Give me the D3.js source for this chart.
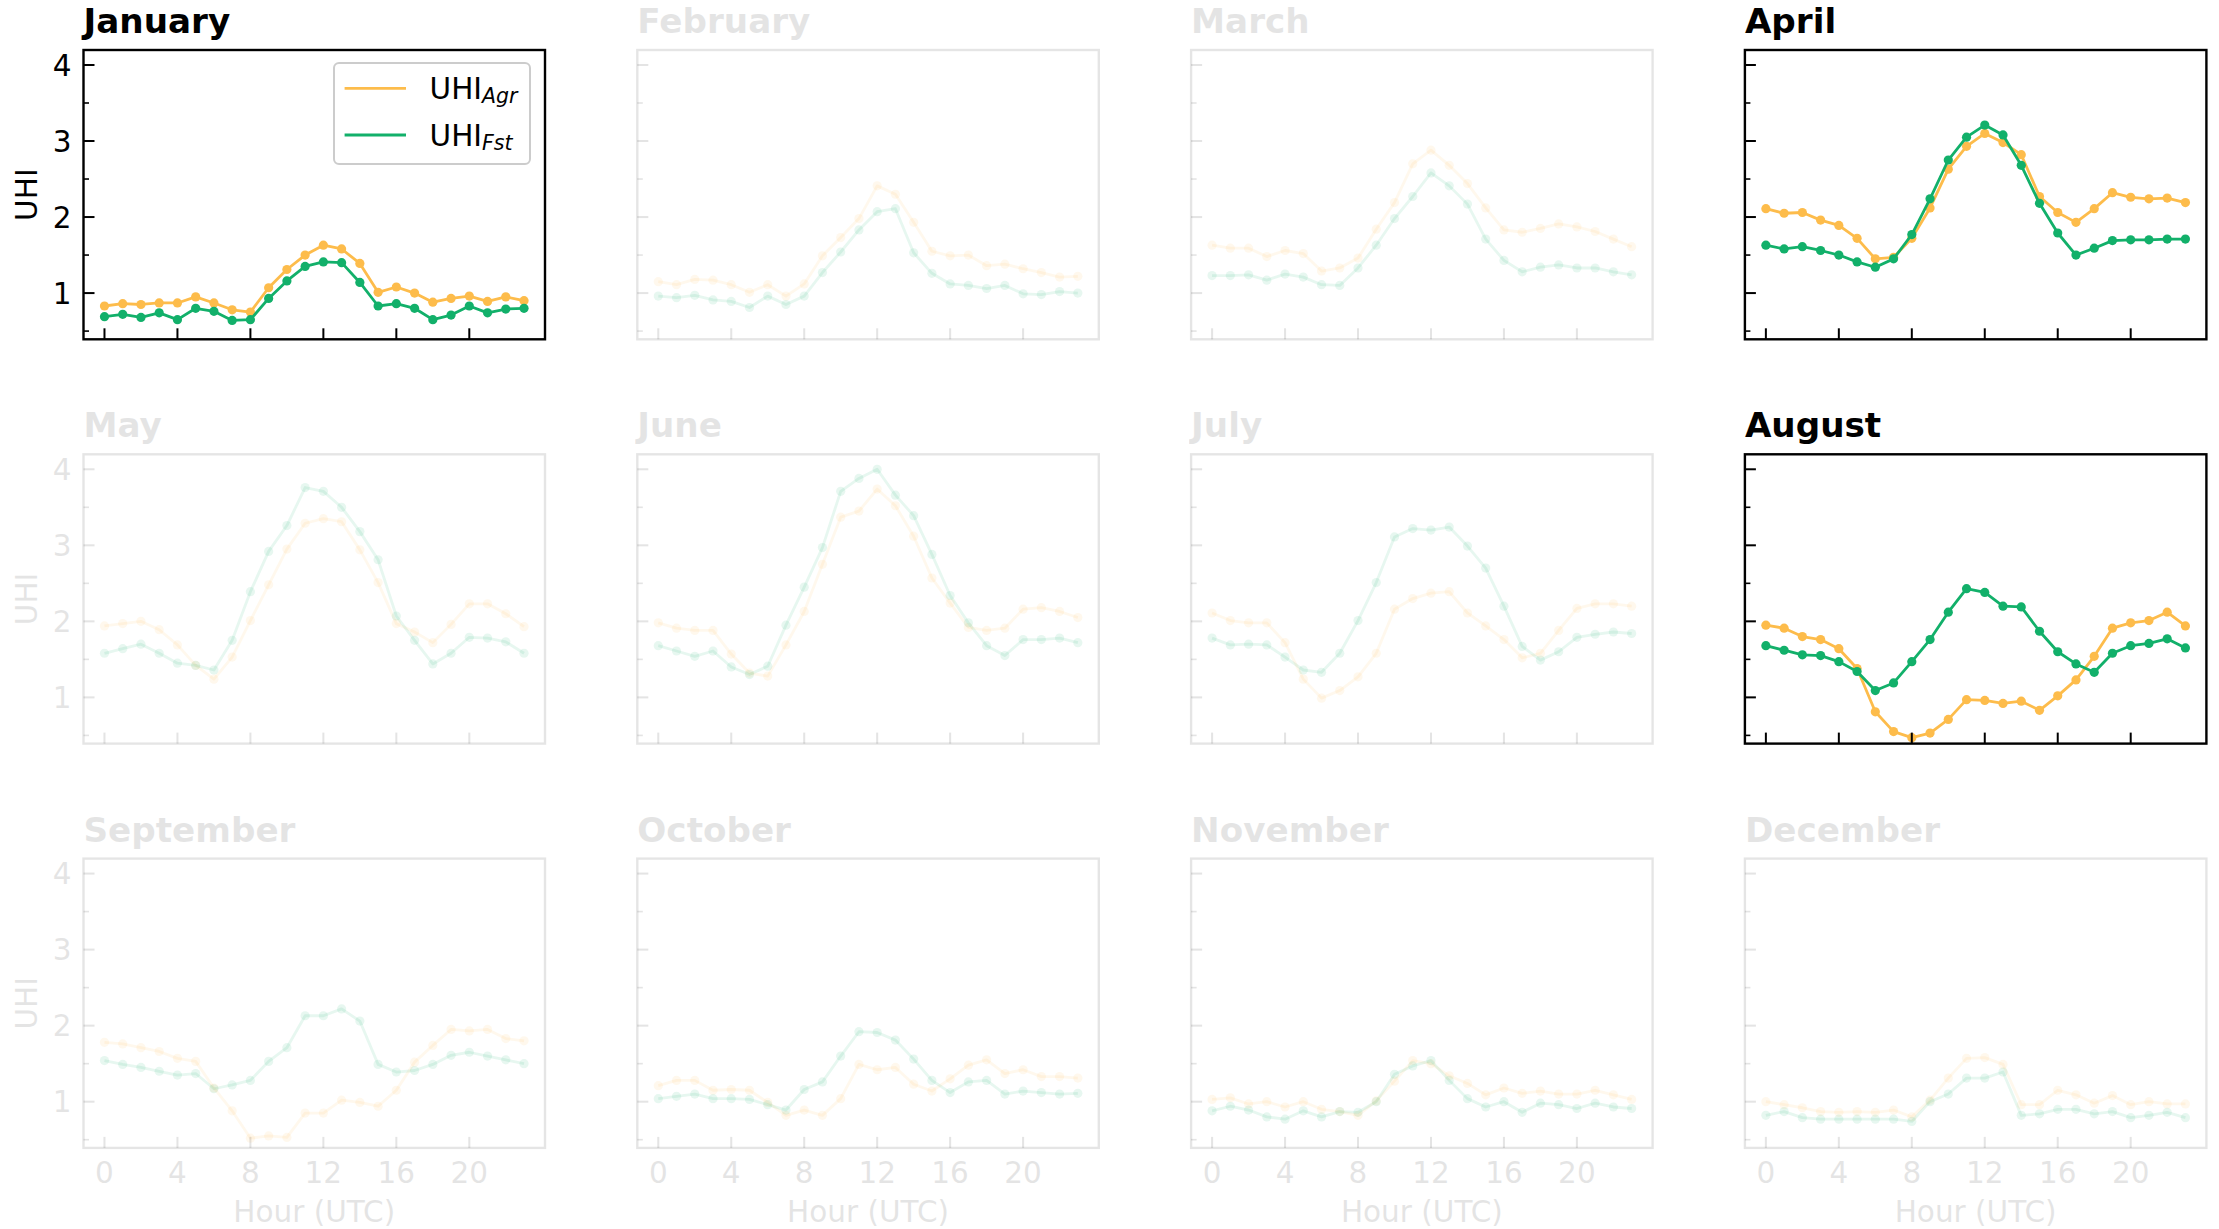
<!DOCTYPE html>
<html><head><meta charset="utf-8">
<script src="https://cdn.jsdelivr.net/npm/d3@7"></script>
<style>body{margin:0;background:#fff}svg{display:block}text{font-family:"DejaVu Sans",sans-serif}</style>
</head><body>
<script>
const months = ["January","February","March","April","May","June","July","August","September","October","November","December"];
const highlighted = ["January","April","August"];
const hours = [0,1,2,3,4,5,6,7,8,9,10,11,12,13,14,15,16,17,18,19,20,21,22,23];
const xTicks = [0,4,8,12,16,20];
const yMajorTicks = [1,2,3,4];
const yMinorTicks = [0.5,1.5,2.5,3.5];
const seriesNames = ["Agr","Fst"];
const seriesColors = ["#fdbc4b","#12b06a"];

const agrJanuary = [0.83,0.86,0.85,0.87,0.87,0.95,0.87,0.78,0.75,1.07,1.31,1.50,1.63,1.58,1.39,1.01,1.08,1.00,0.88,0.93,0.96,0.89,0.95,0.90];
const fstJanuary = [0.69,0.72,0.68,0.74,0.65,0.80,0.76,0.64,0.65,0.93,1.16,1.35,1.41,1.40,1.14,0.83,0.86,0.80,0.65,0.71,0.83,0.74,0.79,0.80];
const agrFebruary = [1.15,1.11,1.18,1.17,1.11,1.01,1.11,0.96,1.12,1.49,1.73,1.98,2.41,2.30,1.93,1.55,1.49,1.50,1.36,1.38,1.32,1.27,1.21,1.22];
const fstFebruary = [0.96,0.94,0.97,0.91,0.89,0.81,0.96,0.85,0.96,1.27,1.54,1.83,2.07,2.11,1.53,1.26,1.12,1.10,1.06,1.10,0.99,0.98,1.02,1.00];
const agrMarch = [1.63,1.59,1.59,1.48,1.56,1.52,1.29,1.33,1.46,1.84,2.19,2.70,2.88,2.68,2.44,2.12,1.83,1.80,1.85,1.91,1.87,1.81,1.71,1.61];
const fstMarch = [1.23,1.23,1.24,1.17,1.25,1.21,1.11,1.10,1.33,1.63,1.98,2.27,2.58,2.41,2.17,1.71,1.43,1.28,1.34,1.37,1.33,1.33,1.28,1.24];
const agrApril = [2.11,2.05,2.06,1.96,1.89,1.72,1.45,1.47,1.72,2.12,2.63,2.93,3.10,2.98,2.82,2.27,2.06,1.93,2.11,2.32,2.26,2.24,2.25,2.19];
const fstApril = [1.63,1.58,1.61,1.56,1.50,1.41,1.34,1.45,1.77,2.24,2.75,3.05,3.21,3.08,2.68,2.18,1.79,1.50,1.59,1.69,1.70,1.70,1.71,1.71];
const agrMay = [1.94,1.97,2.00,1.89,1.69,1.42,1.24,1.53,2.01,2.48,2.95,3.29,3.35,3.31,2.94,2.51,1.97,1.86,1.72,1.96,2.23,2.23,2.10,1.93];
const fstMay = [1.58,1.64,1.70,1.58,1.45,1.42,1.36,1.75,2.39,2.92,3.26,3.76,3.71,3.50,3.18,2.81,2.07,1.75,1.44,1.58,1.79,1.78,1.73,1.58];
const agrJune = [1.98,1.91,1.88,1.88,1.57,1.32,1.28,1.69,2.13,2.75,3.37,3.45,3.74,3.52,3.12,2.57,2.24,1.92,1.88,1.91,2.16,2.18,2.13,2.05];
const fstJune = [1.68,1.61,1.54,1.61,1.40,1.30,1.41,1.95,2.45,2.97,3.71,3.88,4.00,3.66,3.39,2.88,2.34,1.98,1.68,1.55,1.76,1.76,1.78,1.72];
const agrJuly = [2.11,2.01,1.98,1.98,1.72,1.24,0.99,1.09,1.27,1.58,2.16,2.30,2.37,2.39,2.11,1.94,1.76,1.52,1.58,1.88,2.17,2.23,2.23,2.20];
const fstJuly = [1.78,1.69,1.70,1.69,1.53,1.36,1.33,1.58,2.01,2.51,3.11,3.22,3.20,3.24,2.99,2.70,2.20,1.67,1.49,1.60,1.79,1.83,1.86,1.84];
const agrAugust = [1.95,1.91,1.80,1.76,1.64,1.38,0.81,0.55,0.47,0.53,0.71,0.97,0.96,0.92,0.95,0.83,1.02,1.23,1.54,1.91,1.98,2.01,2.12,1.94];
const fstAugust = [1.68,1.62,1.56,1.55,1.47,1.34,1.09,1.19,1.47,1.76,2.12,2.43,2.38,2.20,2.19,1.87,1.60,1.44,1.33,1.58,1.68,1.71,1.77,1.65];
const agrSeptember = [1.78,1.76,1.71,1.66,1.57,1.53,1.18,0.88,0.52,0.55,0.53,0.85,0.85,1.02,0.99,0.94,1.15,1.52,1.74,1.95,1.93,1.95,1.83,1.80];
const fstSeptember = [1.54,1.49,1.45,1.40,1.35,1.37,1.17,1.22,1.28,1.53,1.71,2.13,2.13,2.22,2.06,1.49,1.39,1.41,1.49,1.61,1.65,1.60,1.55,1.50];
const agrOctober = [1.21,1.28,1.28,1.15,1.16,1.15,0.99,0.82,0.89,0.82,1.04,1.49,1.42,1.45,1.23,1.14,1.30,1.48,1.55,1.37,1.42,1.33,1.33,1.31];
const fstOctober = [1.04,1.07,1.10,1.04,1.04,1.03,0.96,0.89,1.16,1.26,1.60,1.92,1.91,1.81,1.56,1.28,1.12,1.26,1.28,1.10,1.14,1.12,1.10,1.11];
const agrNovember = [1.03,1.05,0.97,1.00,0.93,1.00,0.90,0.87,0.82,1.01,1.27,1.54,1.50,1.34,1.24,1.09,1.18,1.11,1.14,1.10,1.10,1.15,1.09,1.03];
const fstNovember = [0.88,0.94,0.89,0.80,0.77,0.88,0.80,0.87,0.86,1.00,1.36,1.47,1.54,1.28,1.04,0.93,1.00,0.86,0.98,0.96,0.91,0.98,0.93,0.91];
const agrDecember = [1.00,0.96,0.92,0.87,0.86,0.87,0.86,0.89,0.80,1.02,1.31,1.57,1.58,1.49,0.96,0.96,1.15,1.09,0.98,1.08,0.96,1.00,0.97,0.97];
const fstDecember = [0.82,0.87,0.79,0.77,0.77,0.77,0.77,0.77,0.74,1.00,1.10,1.31,1.31,1.39,0.82,0.84,0.90,0.90,0.84,0.87,0.79,0.82,0.86,0.79];

const agrByMonth = [agrJanuary,agrFebruary,agrMarch,agrApril,agrMay,agrJune,agrJuly,agrAugust,agrSeptember,agrOctober,agrNovember,agrDecember];
const fstByMonth = [fstJanuary,fstFebruary,fstMarch,fstApril,fstMay,fstJune,fstJuly,fstAugust,fstSeptember,fstOctober,fstNovember,fstDecember];

const W = 2219, H = 1229;
const left0 = 83.5, colPitch = 553.8, pw = 461.5;
const top0 = 50, rowPitch = 404.3, ph = 289.3;
const FS = 29.5;

const svg = d3.select("body").append("svg").attr("width", W).attr("height", H);

const x = d3.scaleLinear().domain([-1.15, 24.15]).range([0, pw]);
const y = d3.scaleLinear().domain([0.392, 4.197]).range([ph, 0]);

months.forEach((m, i) => {
  const col = i % 4, row = Math.floor(i / 4);
  const op = highlighted.includes(m) ? 1 : 0.1;
  const g = svg.append("g").attr("transform", `translate(${left0 + col * colPitch},${top0 + row * rowPitch})`);

  [agrByMonth[i], fstByMonth[i]].forEach((vals, s) => {
    const pts = hours.map((h, k) => [h, vals[k]]);
    g.append("path")
      .attr("d", d3.line().x(d => x(d[0])).y(d => y(d[1]))(pts))
      .attr("fill", "none").attr("stroke", seriesColors[s])
      .attr("stroke-width", 2.8).attr("stroke-linejoin", "round").attr("opacity", op);
    g.selectAll(null).data(pts).enter().append("circle")
      .attr("cx", d => x(d[0])).attr("cy", d => y(d[1])).attr("r", 4.6)
      .attr("fill", seriesColors[s]).attr("opacity", op);
  });

  yMajorTicks.forEach(v => g.append("line").attr("x1", 0).attr("x2", 11).attr("y1", y(v)).attr("y2", y(v))
    .attr("stroke", "#000").attr("stroke-width", 2).attr("opacity", op));
  yMinorTicks.forEach(v => g.append("line").attr("x1", 0).attr("x2", 5.5).attr("y1", y(v)).attr("y2", y(v))
    .attr("stroke", "#000").attr("stroke-width", 1.6).attr("opacity", op));
  xTicks.forEach(v => g.append("line").attr("x1", x(v)).attr("x2", x(v)).attr("y1", ph).attr("y2", ph - 11)
    .attr("stroke", "#000").attr("stroke-width", 2).attr("opacity", op));

  g.append("rect").attr("x", 0).attr("y", 0).attr("width", pw).attr("height", ph)
    .attr("fill", "none").attr("stroke", "#000").attr("stroke-width", 2.4).attr("opacity", op);

  g.append("text").attr("x", 0).attr("y", -17).attr("font-size", 34.2).attr("font-weight", "bold")
    .attr("fill", "#000").attr("opacity", op).text(m);

  if (col === 0) {
    yMajorTicks.forEach(v => g.append("text").attr("x", -12).attr("y", y(v)).attr("dy", "0.36em")
      .attr("text-anchor", "end").attr("font-size", FS).attr("fill", "#000").attr("opacity", op).text(v));
    g.append("text").attr("transform", `translate(${37 - left0},${ph / 2}) rotate(-90)`)
      .attr("text-anchor", "middle").attr("font-size", FS).attr("fill", "#000").attr("opacity", op).text("UHI");
  }
  if (row === 2) {
    xTicks.forEach(v => g.append("text").attr("x", x(v)).attr("y", ph + 35)
      .attr("text-anchor", "middle").attr("font-size", FS).attr("fill", "#000").attr("opacity", op).text(v));
    g.append("text").attr("x", pw / 2).attr("y", ph + 74).attr("text-anchor", "middle")
      .attr("font-size", FS).attr("fill", "#000").attr("opacity", op).text("Hour (UTC)");
  }

  if (i === 0) {
    const lg = g.append("g").attr("transform", `translate(${pw - 15 - 196},13)`);
    lg.append("rect").attr("width", 196).attr("height", 101).attr("rx", 5)
      .attr("fill", "#fff").attr("fill-opacity", 0.8).attr("stroke", "#cccccc").attr("stroke-width", 2);
    seriesNames.forEach((nm, s) => {
      const ly = 25.3 + s * 46.7;
      lg.append("line").attr("x1", 10.6).attr("x2", 72).attr("y1", ly).attr("y2", ly)
        .attr("stroke", seriesColors[s]).attr("stroke-width", 2.8);
      const t = lg.append("text").attr("x", 95.6).attr("y", ly + 10.5).attr("font-size", FS).attr("fill", "#000");
      t.append("tspan").text("UHI");
      t.append("tspan").attr("dy", 4).attr("font-size", 20.5).attr("font-style", "italic").text(nm);
    });
  }
});
</script>
</body></html>
